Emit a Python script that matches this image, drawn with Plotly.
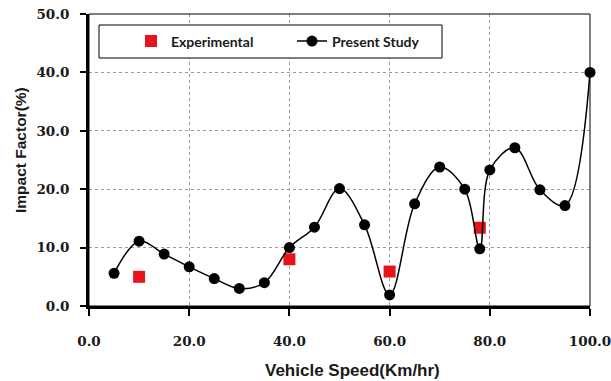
import plotly.graph_objects as go

speed_study = [5, 10, 15, 20, 25, 30, 35, 40, 45, 50, 55, 60, 65, 70, 75, 78, 80, 85, 90, 95, 100]
impact_study = [5.6, 11.1, 8.9, 6.7, 4.7, 3.0, 4.0, 10.0, 13.5, 20.1, 13.9, 1.9, 17.5, 23.8, 20.0, 9.8, 23.3, 27.1, 19.9, 17.2, 40.0]
speed_exp = [10, 40, 60, 78]
impact_exp = [5.0, 8.0, 5.9, 13.4]
x_ticks = [0, 20, 40, 60, 80, 100]
x_labels = ["0.0", "20.0", "40.0", "60.0", "80.0", "100.0"]
y_ticks = [0, 10, 20, 30, 40, 50]
y_labels = ["0.0", "10.0", "20.0", "30.0", "40.0", "50.0"]

W, H = 611, 381
L, R, T, B = 89, 21, 14, 75
pw, ph = W - L - R, H - T - B

def px(x):
    return (x - L) / pw

def py(y):
    return (H - B - y) / ph

fig = go.Figure()
fig.add_trace(go.Scatter(
    x=speed_exp, y=impact_exp, mode="markers", name="Experimental",
    marker=dict(symbol="square", size=12, color="#e8141b"),
    cliponaxis=False,
))
fig.add_trace(go.Scatter(
    x=speed_study, y=impact_study, mode="lines+markers", name="Present Study",
    line=dict(color="black", width=1.5, shape="spline", smoothing=1.0),
    marker=dict(symbol="circle", size=11, color="black"),
    cliponaxis=False,
))

tick_font = dict(family="DejaVu Serif", size=13.5, color="#1a1a1a", weight="bold")

fig.update_layout(
    width=W, height=H,
    margin=dict(l=L, r=R, t=T, b=B, autoexpand=False),
    paper_bgcolor="white", plot_bgcolor="white",
    showlegend=True,
    legend=dict(
        orientation="h", x=px(131), y=py(41.5), xanchor="left", yanchor="middle",
        bgcolor="rgba(0,0,0,0)", borderwidth=0,
        font=dict(family="Lato", size=14, color="#1a1a1a", weight="bold"),
        entrywidth=116, entrywidthmode="pixels",
        traceorder="normal",
    ),
    xaxis=dict(
        range=[0, 100], tickvals=x_ticks, ticktext=x_labels,
        showline=True, linecolor="black", linewidth=3,
        ticks="outside", ticklen=7, tickwidth=2, tickcolor="black",
        ticklabelstandoff=14, ticklabeloverflow="allow",
        showgrid=True, gridcolor="#9a9a9a", griddash="dot", gridwidth=1,
        zeroline=False, tickfont=tick_font,
    ),
    yaxis=dict(
        range=[0, 50], tickvals=y_ticks, ticktext=y_labels,
        showline=True, linecolor="black", linewidth=3,
        ticks="outside", ticklen=6, tickwidth=2, tickcolor="black",
        ticklabelstandoff=8, ticklabeloverflow="allow",
        showgrid=True, gridcolor="#9a9a9a", griddash="dot", gridwidth=1,
        zeroline=False, tickfont=tick_font,
    ),
    shapes=[
        dict(type="rect", xref="paper", yref="paper", x0=0, x1=1, y0=0, y1=1,
             line=dict(color="black", width=1), layer="above"),
        dict(type="rect", xref="paper", yref="paper",
             x0=px(99), x1=px(442), y0=py(58), y1=py(25),
             line=dict(color="black", width=1), fillcolor="white", layer="above"),
    ],
    annotations=[
        dict(text="Vehicle Speed(Km/hr)", xref="paper", yref="paper",
             x=px(352), y=py(370), xanchor="center", yanchor="middle", showarrow=False,
             font=dict(family="Liberation Sans", size=17, color="#1a1a1a", weight="bold")),
        dict(text="Impact Factor(%)", xref="paper", yref="paper",
             x=px(20), y=py(150), xanchor="center", yanchor="middle", showarrow=False,
             textangle=-90,
             font=dict(family="Liberation Sans", size=15.5, color="#1a1a1a", weight="bold")),
    ],
)

fig.write_html(
    "out.html",
    config={"displayModeBar": False},
    post_script="document.body.style.margin='0';document.body.style.overflow='hidden';",
)
